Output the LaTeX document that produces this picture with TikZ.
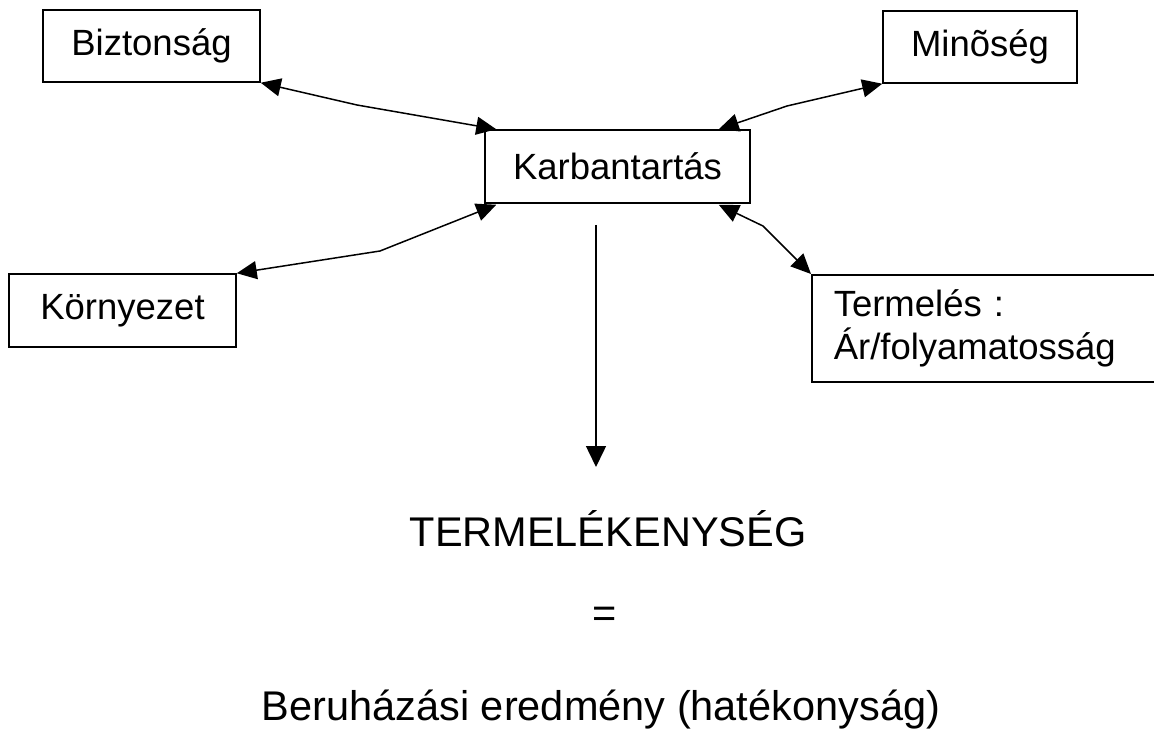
\documentclass[tikz,border=0pt]{standalone}
\usepackage{fontspec}
\setmainfont{Liberation Sans}
\usetikzlibrary{arrows.meta}
\begin{document}
\begin{tikzpicture}[x=1pt,y=-1pt,
  box/.style={draw, line width=1.5pt, inner sep=0pt, font=\fontsize{36.5}{43}\selectfont},
  link/.style={line width=1.5pt, {Triangle[length=20pt,width=18pt]}-{Triangle[length=20pt,width=18pt]}},
  onelink/.style={line width=1.5pt, -{Triangle[length=21pt,width=20pt]}},
  big/.style={anchor=base, inner sep=0pt, font=\fontsize{41.5}{48}\selectfont}]
\useasboundingbox (0,0) rectangle (1154,730);

% boxes
\node[box, minimum width=217pt, minimum height=72pt] (bizt) at (151.5,46) {Biztonság};
\node[box, minimum width=194pt, minimum height=72pt] (min)  at (980,47) {Minõség};
\node[box, minimum width=265pt, minimum height=73pt] (karb) at (617.5,166.5) {Karbantartás};
\node[box, minimum width=227pt, minimum height=73pt] (kor)  at (122.5,310.5) {Környezet};
\node[box, anchor=north west, minimum width=359pt, minimum height=107pt,
      text width=315pt, inner xsep=22pt, align=left] (term) at (811,274)
      {Termelés :\\Ár/folyamatosság};

% bent connectors between the boxes
\coordinate (b1) at (357,105);
\coordinate (b2) at (787,106);
\coordinate (b3) at (380,251);
\coordinate (b4) at (763,226);
\draw[link] (bizt.south east) -- (b1) -- ([xshift=12pt]karb.north west);
\draw[link] (min.south west) -- (b2) -- ([xshift=-32pt]karb.north east);
\draw[link] ([xshift=12pt,yshift=-1pt]karb.south west) -- (b3) -- (kor.north east);
\draw[link] ([xshift=-32pt,yshift=-1pt]karb.south east) -- (b4) -- (term.north west);

% result text
\node[big] (prod) at (608,546) {TERMELÉKENYSÉG};
\node[big] (eq) at (605,627) {=};
\node[big] (inv) at (601,720) {Beruházási eredmény (hatékonyság)};

% downward arrow from the maintenance box towards the result
\coordinate (v0) at (596,225);
\coordinate (v1) at (596,467);
\draw[onelink] (v0) -- (v1);
\end{tikzpicture}
\end{document}
